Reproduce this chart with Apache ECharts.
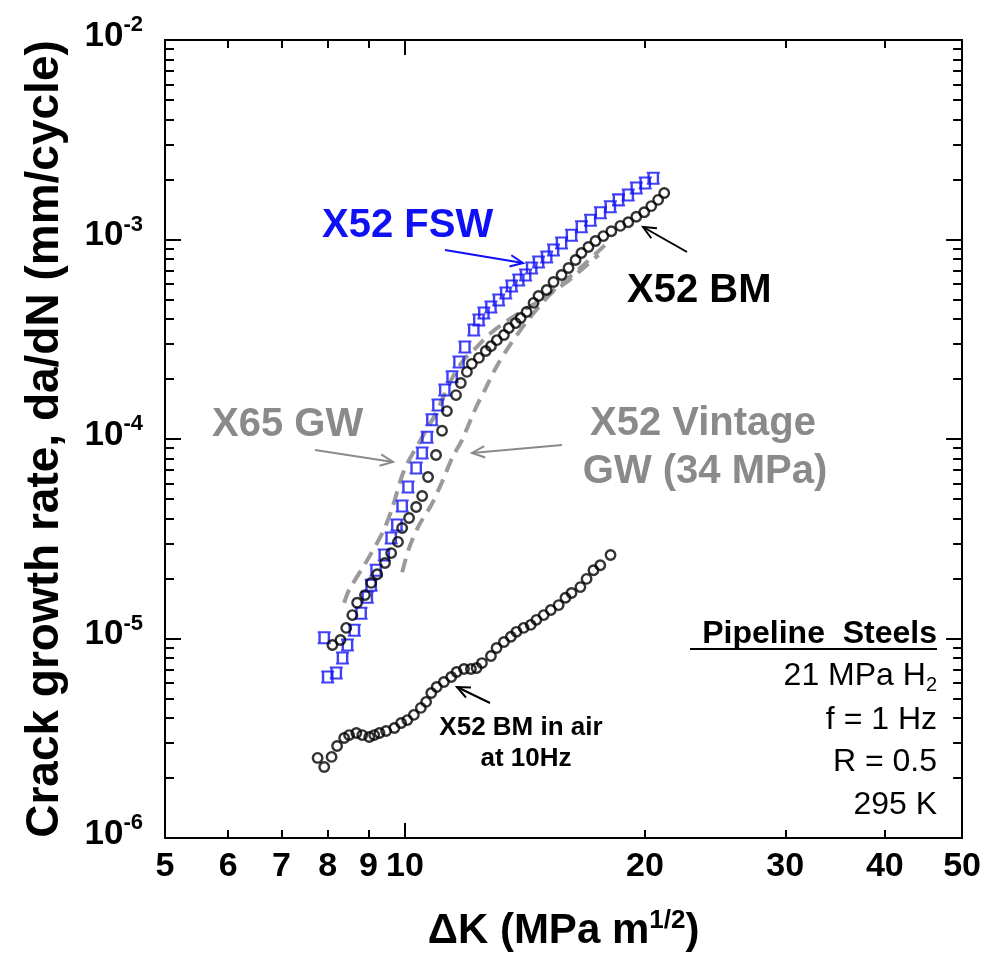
<!DOCTYPE html>
<html><head><meta charset="utf-8">
<script src="https://cdn.jsdelivr.net/npm/echarts@6/dist/echarts.min.js"></script>
<style>html,body{margin:0;padding:0;background:#fff}#c{width:984px;height:964px}</style>
</head><body><div id="c"></div>
<script>
const FONT = '"Liberation Sans", Arial, Helvetica, sans-serif';

// ---- Data (ΔK in MPa m^1/2, da/dN in mm/cycle) ----
const fswK = [7.92, 8.00, 8.20, 8.35, 8.47, 8.64, 8.81, 8.97, 9.07, 9.20, 9.42, 9.61, 9.77, 9.92, 10.09, 10.33, 10.51, 10.66, 10.81, 11.00, 11.22, 11.46, 11.69, 11.89, 12.20, 12.38, 12.56, 12.82, 13.11, 13.38, 13.61, 13.89, 14.17, 14.42, 14.71, 15.06, 15.36, 15.72, 16.18, 16.65, 17.09, 17.59, 18.10, 18.53, 19.06, 19.51, 20.02, 20.49];
const fswRate = [1.01e-5, 6.41e-6, 6.71e-6, 7.98e-6, 9.27e-6, 1.10e-5, 1.34e-5, 1.61e-5, 1.85e-5, 2.20e-5, 2.62e-5, 3.19e-5, 3.71e-5, 4.61e-5, 5.74e-5, 7.16e-5, 8.51e-5, 1.02e-4, 1.25e-4, 1.48e-4, 1.76e-4, 2.05e-4, 2.43e-4, 2.89e-4, 3.52e-4, 3.95e-4, 4.28e-4, 4.59e-4, 4.97e-4, 5.40e-4, 5.85e-4, 6.27e-4, 6.64e-4, 7.20e-4, 7.71e-4, 8.17e-4, 8.86e-4, 9.60e-4, 1.05e-3, 1.16e-3, 1.25e-3, 1.36e-3, 1.46e-3, 1.58e-3, 1.67e-3, 1.81e-3, 1.92e-3, 2.03e-3];

const bmK = [8.11, 8.30, 8.44, 8.59, 8.71, 8.91, 9.07, 9.23, 9.44, 9.61, 9.80, 9.92, 10.12, 10.33, 10.51, 10.69, 10.94, 11.13, 11.29, 11.59, 11.75, 11.96, 12.13, 12.38, 12.63, 12.82, 13.04, 13.31, 13.50, 13.77, 13.97, 14.21, 14.50, 14.71, 15.06, 15.36, 15.72, 16.04, 16.37, 16.65, 16.99, 17.34, 17.74, 18.15, 18.63, 19.06, 19.51, 19.96, 20.37, 20.78, 21.15];
const bmRate = [9.27e-6, 9.82e-6, 1.13e-5, 1.31e-5, 1.51e-5, 1.65e-5, 1.90e-5, 2.10e-5, 2.39e-5, 2.68e-5, 3.05e-5, 3.58e-5, 4.02e-5, 4.56e-5, 5.18e-5, 6.45e-5, 8.32e-5, 1.10e-4, 1.38e-4, 1.66e-4, 1.91e-4, 2.17e-4, 2.38e-4, 2.55e-4, 2.76e-4, 2.92e-4, 3.13e-4, 3.32e-4, 3.60e-4, 3.81e-4, 4.04e-4, 4.33e-4, 4.81e-4, 5.21e-4, 5.58e-4, 6.12e-4, 6.64e-4, 7.20e-4, 7.89e-4, 8.55e-4, 9.17e-4, 9.83e-4, 1.04e-3, 1.10e-3, 1.17e-3, 1.22e-3, 1.30e-3, 1.37e-3, 1.47e-3, 1.58e-3, 1.71e-3];

const airK = [7.77, 7.92, 8.09, 8.22, 8.39, 8.51, 8.69, 8.84, 9.02, 9.15, 9.29, 9.47, 9.70, 9.89, 10.07, 10.26, 10.47, 10.63, 10.79, 10.96, 11.19, 11.43, 11.61, 11.86, 12.10, 12.30, 12.49, 12.82, 13.03, 13.31, 13.58, 13.80, 14.09, 14.38, 14.62, 14.93, 15.24, 15.59, 15.90, 16.18, 16.60, 16.90, 17.24, 17.58, 18.11];
const airRate = [2.52e-6, 2.27e-6, 2.55e-6, 2.89e-6, 3.17e-6, 3.28e-6, 3.36e-6, 3.28e-6, 3.21e-6, 3.28e-6, 3.36e-6, 3.44e-6, 3.56e-6, 3.77e-6, 3.90e-6, 4.14e-6, 4.49e-6, 4.81e-6, 5.33e-6, 5.71e-6, 6.05e-6, 6.41e-6, 6.79e-6, 7.03e-6, 7.03e-6, 7.11e-6, 7.53e-6, 8.17e-6, 8.96e-6, 9.60e-6, 1.02e-5, 1.08e-5, 1.13e-5, 1.17e-5, 1.24e-5, 1.31e-5, 1.39e-5, 1.47e-5, 1.60e-5, 1.69e-5, 1.81e-5, 1.99e-5, 2.20e-5, 2.33e-5, 2.62e-5];

const x65K = [8.39, 8.51, 8.94, 9.37, 9.64, 9.98, 10.51, 10.94, 11.35, 11.79, 12.30, 12.82, 13.38, 14.09, 14.93, 15.81, 16.75, 17.99];
const x65Rate = [1.51e-5, 1.75e-5, 2.42e-5, 3.38e-5, 4.51e-5, 7.00e-5, 1.02e-4, 1.35e-4, 1.87e-4, 2.43e-4, 2.89e-4, 3.40e-4, 3.86e-4, 4.43e-4, 5.09e-4, 6.12e-4, 7.45e-4, 9.71e-4];

const vintK = [9.92, 10.12, 10.42, 10.79, 11.13, 11.46, 11.79, 12.27, 12.63, 13.00, 13.49, 14.17, 14.72, 15.27, 15.90, 16.75, 17.49];
const vintRate = [2.15e-5, 2.84e-5, 3.71e-5, 4.67e-5, 6.08e-5, 8.03e-5, 9.88e-5, 1.43e-4, 1.80e-4, 2.27e-4, 2.89e-4, 3.81e-4, 4.59e-4, 5.40e-4, 6.05e-4, 7.20e-4, 8.36e-4];

// ---- Tick labels ----
const xLabelValues = [5, 6, 7, 8, 9, 10, 20, 30, 40, 50];
const xMinorValues = [6, 7, 8, 9, 20, 30, 40];
const xMajorValues = [10];
const yDecadeExps = [-6, -5, -4, -3, -2];
const yMinorMults = [2, 3, 4, 5, 6, 7, 8, 9];

// ---- Build ----
const lg = Math.log10;
const zip = (a, b) => a.map((v, i) => [v, b[i]]);
const xMin = lg(5), xMax = lg(50);
const yMinorExps = [];
yDecadeExps.slice(0, -1).forEach(e => yMinorMults.forEach(m => yMinorExps.push(e + lg(m))));

const BLACK = '#000';
const GRAY_T = '#8a8a8a';
const GRAY_L = '#9a9a9a';
const BLUE = '#1010f5';

const line2 = { show: true, lineStyle: { color: BLACK, width: 2 } };
const noLine = { show: false };
const noSplit = { show: false };
const noLabel = { show: false };
const tick = (vals, len) => ({ show: true, inside: true, length: len, customValues: vals, lineStyle: { color: BLACK, width: 2 } });

function xOverlay(pos, ticks, len, label, showLine) {
  return {
    type: 'value', min: xMin, max: xMax, position: pos,
    axisLine: showLine ? line2 : noLine,
    axisTick: tick(ticks.map(lg), len),
    axisLabel: label || noLabel,
    splitLine: noSplit
  };
}
function yOverlay(pos, ticks, len, label, showLine) {
  return {
    type: 'value', min: -6, max: -2, position: pos,
    axisLine: showLine ? line2 : noLine,
    axisTick: tick(ticks, len),
    axisLabel: label || noLabel,
    splitLine: noSplit
  };
}

const xLabel = {
  show: true, margin: 12, customValues: xLabelValues.map(lg),
  formatter: v => String(Math.round(Math.pow(10, v))),
  fontSize: 34, fontWeight: 'bold', color: BLACK, fontFamily: FONT
};
const yLabel = {
  show: true, margin: 22, customValues: yDecadeExps,
  formatter: v => '{b|10}{s|' + Math.round(v) + '}',
  rich: {
    b: { fontSize: 35, fontWeight: 'bold', color: BLACK, fontFamily: FONT, padding: [0, 0, 8, 0] },
    s: { fontSize: 22, fontWeight: 'bold', color: BLACK, fontFamily: FONT, padding: [0, 0, 30, 0] }
  }
};

function arrow(x1, y1, x2, y2, color) {
  const ang = Math.atan2(y2 - y1, x2 - x1), L = 14, a = 0.42;
  return [
    { type: 'line', shape: { x1, y1, x2, y2 }, style: { stroke: color, lineWidth: 2 } },
    { type: 'polyline', shape: { points: [[x2 - L * Math.cos(ang - a), y2 - L * Math.sin(ang - a)], [x2, y2], [x2 - L * Math.cos(ang + a), y2 - L * Math.sin(ang + a)]] },
      style: { stroke: color, lineWidth: 2, fill: null } }
  ];
}
function txt(text, x, y, color, size, weight, align, rich) {
  return { type: 'text', x, y, style: { text, fill: color, font: weight + ' ' + size + 'px ' + FONT, align: align, verticalAlign: 'middle', rich: rich } };
}

const bigFont = 40;
const graphics = [
  txt('X52 FSW', 322, 226, BLUE, bigFont, 'bold', 'left'),
  txt('X52 BM', 627, 291, BLACK, bigFont, 'bold', 'left'),
  txt('X65 GW', 212, 425, GRAY_T, bigFont, 'bold', 'left'),
  txt('X52 Vintage', 703, 424, GRAY_T, bigFont, 'bold', 'center'),
  txt('GW (34 MPa)', 705, 472, GRAY_T, bigFont, 'bold', 'center'),
  txt('X52 BM in air', 521, 728, BLACK, 26, 'bold', 'center'),
  txt('at 10Hz', 526, 759, BLACK, 26, 'bold', 'center'),
  txt('Pipeline  Steels', 937, 634, BLACK, 32, 'bold', 'right'),
  { type: 'line', shape: { x1: 690, y1: 649, x2: 937, y2: 649 }, style: { stroke: BLACK, lineWidth: 2 } },
  { type: 'text', x: 937, y: 676, style: { text: '{a|21 MPa H}{s|2}', align: 'right', verticalAlign: 'middle',
      rich: { a: { fontSize: 32, fontFamily: FONT, fill: BLACK }, s: { fontSize: 20, fontFamily: FONT, fill: BLACK, padding: [18, 0, 0, 0] } } } },
  txt('f = 1 Hz', 937, 720, BLACK, 32, 'normal', 'right'),
  txt('R = 0.5', 937, 762, BLACK, 32, 'normal', 'right'),
  txt('295 K', 937, 805, BLACK, 32, 'normal', 'right'),
  ...arrow(445, 250, 523, 263, BLUE),
  ...arrow(687, 252, 643, 227, BLACK),
  ...arrow(315, 450, 393, 462, GRAY_T),
  ...arrow(562, 445, 472, 453, GRAY_T),
  ...arrow(490, 703, 457, 687, BLACK)
];

const fswSymbol = 'path://M0,0 L14,0 M0,12 L14,12 M2,0 L2,12 M12,0 L12,12';

const option = {
  animation: false,
  backgroundColor: '#fff',
  grid: { left: 165, right: 19, top: 40, bottom: 126, containLabel: false },
  xAxis: [
    { type: 'log', logBase: 10, min: 5, max: 50, position: 'bottom',
      axisLine: line2, axisTick: { show: false }, axisLabel: noLabel, splitLine: noSplit,
      name: '{a|ΔK (MPa m}{s|1/2}{a|)}', nameLocation: 'middle', nameGap: 70,
      nameTextStyle: { rich: {
        a: { fontSize: 42, fontWeight: 'bold', color: BLACK, fontFamily: FONT },
        s: { fontSize: 26, fontWeight: 'bold', color: BLACK, fontFamily: FONT, padding: [0, 0, 20, 0] } } } },
    xOverlay('bottom', xMinorValues, 8, xLabel, false),
    xOverlay('bottom', xMajorValues, 15, null, false),
    xOverlay('top', xMinorValues, 8, null, true),
    xOverlay('top', xMajorValues, 15, null, false)
  ],
  yAxis: [
    { type: 'log', logBase: 10, min: 1e-6, max: 1e-2, position: 'left',
      axisLine: line2, axisTick: { show: false }, axisLabel: noLabel, splitLine: noSplit,
      name: 'Crack growth rate, da/dN (mm/cycle)', nameLocation: 'middle', nameGap: 97,
      nameTextStyle: { fontSize: 46, fontWeight: 'bold', color: BLACK, fontFamily: FONT } },
    yOverlay('left', yDecadeExps, 16, yLabel, false),
    yOverlay('left', yMinorExps, 9, null, false),
    yOverlay('right', yDecadeExps, 16, null, true),
    yOverlay('right', yMinorExps, 9, null, false)
  ],
  series: [
    { name: 'X65 GW', type: 'line', xAxisIndex: 0, yAxisIndex: 0, data: zip(x65K, x65Rate),
      showSymbol: false, smooth: 0.3, lineStyle: { color: GRAY_L, width: 4, type: [14, 8] }, z: 1 },
    { name: 'X52 Vintage GW', type: 'line', xAxisIndex: 0, yAxisIndex: 0, data: zip(vintK, vintRate),
      showSymbol: false, smooth: 0.3, lineStyle: { color: GRAY_L, width: 4, type: [14, 8] }, z: 1 },
    { name: 'X52 FSW', type: 'scatter', xAxisIndex: 0, yAxisIndex: 0, data: zip(fswK, fswRate),
      symbol: fswSymbol, symbolSize: [13, 11],
      itemStyle: { color: 'rgba(0,0,0,0)', borderColor: BLUE, borderWidth: 2.2 }, z: 2 },
    { name: 'X52 BM', type: 'scatter', xAxisIndex: 0, yAxisIndex: 0, data: zip(bmK, bmRate),
      symbol: 'circle', symbolSize: 9.5,
      itemStyle: { color: 'rgba(255,255,255,0)', borderColor: BLACK, borderWidth: 2.4 }, z: 3 },
    { name: 'X52 BM in air', type: 'scatter', xAxisIndex: 0, yAxisIndex: 0, data: zip(airK, airRate),
      symbol: 'circle', symbolSize: 9.5,
      itemStyle: { color: 'rgba(255,255,255,0)', borderColor: BLACK, borderWidth: 2.4 }, z: 3 }
  ],
  graphic: graphics
};

const chart = echarts.init(document.getElementById('c'), null, { renderer: 'canvas' });
chart.setOption(option);
</script>
</body></html>
